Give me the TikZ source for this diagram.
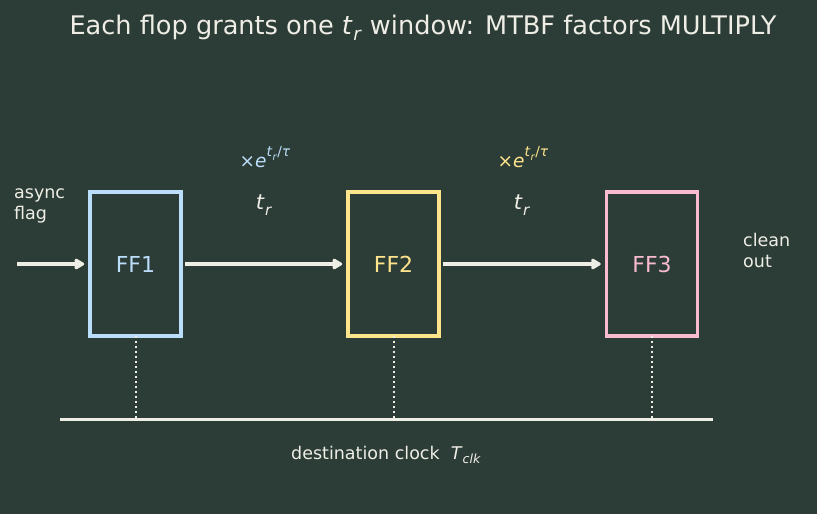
\documentclass[tikz,border=0pt]{standalone}
\usepackage{fontspec}
\setmainfont{DejaVu Sans}
\usetikzlibrary{arrows.meta}

\definecolor{bgc}{HTML}{2C3C36}
\definecolor{ink}{HTML}{EEEEE6}
\definecolor{ffblue}{HTML}{BBDEFB}
\definecolor{ffyellow}{HTML}{FFE48C}
\definecolor{ffpink}{HTML}{F8BBD0}

% t_r and the exponential gain factor, in text italics
\newcommand{\trw}{\textit{t}\kern0.02em\raisebox{-0.25em}{\scalebox{0.72}{\textit{r}}}}
\newcommand{\gainf}{\texttimes\textit{e}\raisebox{0.55em}{\scalebox{0.75}{\trw/\textit{τ}}}}

\begin{document}
\begin{tikzpicture}[x=1pt,y=-1pt,
  flop/.style={draw=#1,text=#1,line width=3.5pt,minimum width=91pt,minimum height=144pt,
    inner sep=0pt,font=\fontsize{22}{26}\selectfont},
  sig/.style={draw=ink,line width=3.5pt,-{Triangle[round,length=11pt,width=12pt]}},
  tick/.style={draw=ink,line width=2pt,dash pattern=on 2pt off 3pt},
  lbl/.style={text=ink,font=\fontsize{17.5}{21}\selectfont,align=left,inner sep=0pt}]
\fill[bgc] (0,0) rectangle (817,514);
\useasboundingbox (0,0) rectangle (817,514);

\node[text=ink,font=\fontsize{25.6}{30}\selectfont] (title) at (423,28)
  {Each flop grants one \trw\ window: MTBF factors MULTIPLY};

% the three synchroniser flops
\node[flop=ffblue] (ff1) at (135.5,264) {FF1};
\node[flop=ffyellow] (ff2) at (393.5,264) {FF2};
\node[flop=ffpink] (ff3) at (652,264) {FF3};

\coordinate (din) at (17,264);
\draw[sig] (din) -- ([xshift=-4pt]ff1.west);
\draw[sig] ([xshift=2pt]ff1.east) -- ([xshift=-4pt]ff2.west);
\draw[sig] ([xshift=2pt]ff2.east) -- ([xshift=-4pt]ff3.west);

\node[lbl,anchor=west] (async) at (14,206) {async\\flag};
\node[lbl,anchor=west] (cout) at (743,250) {clean\\out};

% resolution time and MTBF gain per stage
\node[text=ffblue,font=\fontsize{18.5}{22}\selectfont] (g1) at (265,157) {\gainf};
\node[text=ffyellow,font=\fontsize{18.5}{22}\selectfont] (g2) at (523,157) {\gainf};
\node[text=ink,font=\fontsize{21}{25}\selectfont] (r1) at (264,205) {\trw};
\node[text=ink,font=\fontsize{21}{25}\selectfont] (r2) at (522,205) {\trw};

% shared clock
\coordinate (clkL) at (60,419);
\coordinate (clkR) at (713,419);
\draw[ink,line width=3pt] (clkL) -- (clkR);
\foreach \f in {ff1,ff2,ff3}
  \draw[tick] ([yshift=2pt]\f.south) -- (\f.south |- clkL);
\node[lbl] (clk) at (386,455) {destination clock\ \ \textit{T}\raisebox{-0.25em}{\scalebox{0.72}{\textit{clk}}}};
\end{tikzpicture}
\end{document}
